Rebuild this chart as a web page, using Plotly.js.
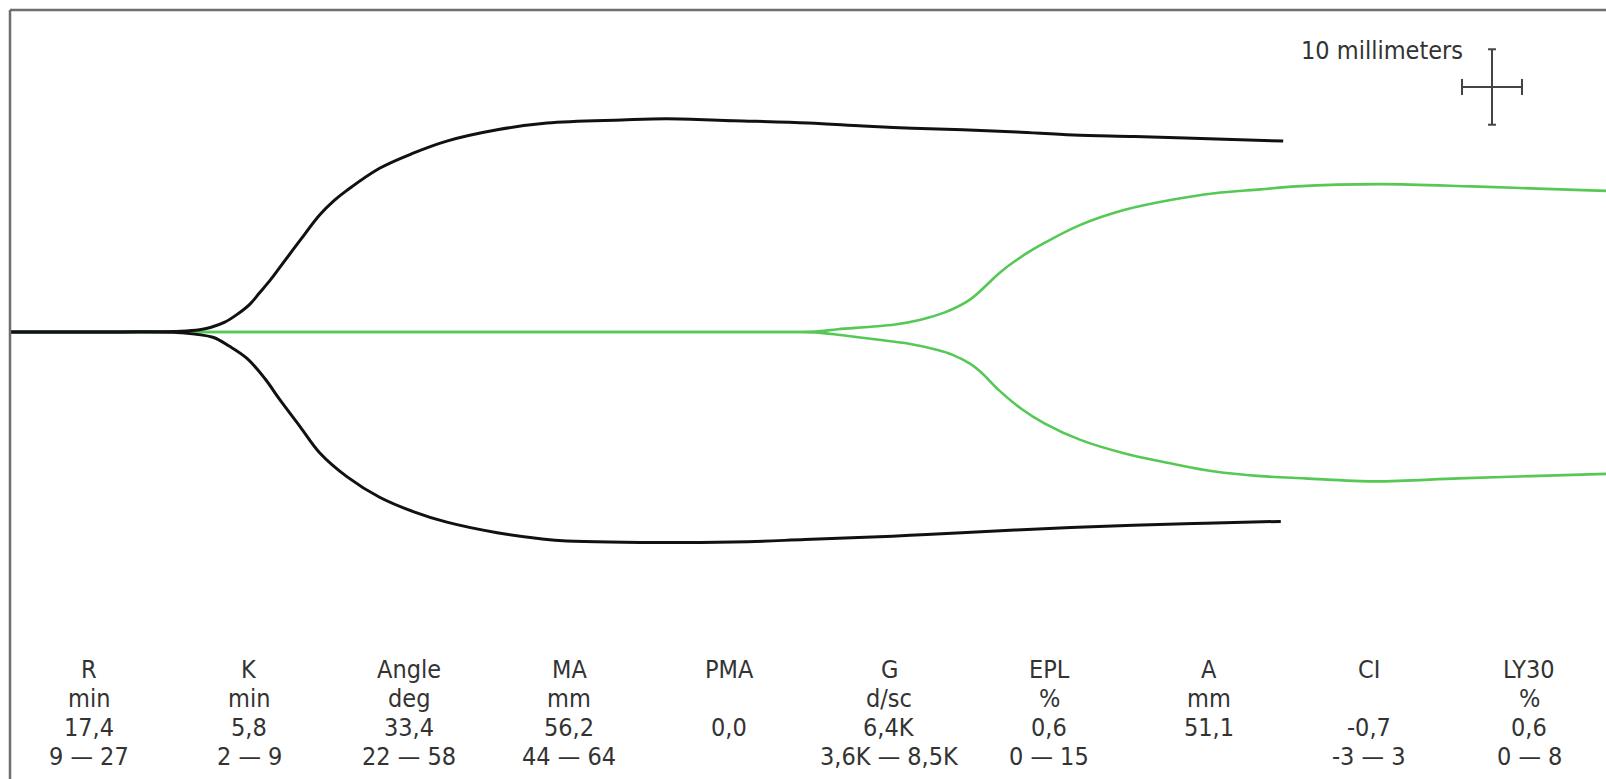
<!DOCTYPE html>
<html>
<head>
<meta charset="utf-8">
<script src="https://cdn.plot.ly/plotly-3.0.1.min.js"></script>
<style>html,body{margin:0;padding:0;background:#fff;}#chart{width:1606px;height:779px;}</style>
</head>
<body>
<div id="chart"></div>
<script>
// Time (minutes) and amplitude (mm, half-amplitude above / below the centre line)
const blackUpperT = [0, 7, 14.2, 15.8, 16.7, 17.9, 18.9, 20.0, 20.8, 21.7, 22.5, 24.2, 25.8, 27.0, 28.1, 30.8, 33.6, 36.4, 40.6, 44.75, 51.0, 54.75, 60.3, 66.5, 71.1, 75.2, 79.4, 83.9, 88.6, 93.75, 99.9, 106.1];
const blackUpperA = [0, 0, 0.1, 0.3, 0.6, 1.3, 2.3, 3.7, 5.2, 6.9, 8.6, 12.2, 15.5, 17.4, 18.8, 21.7, 23.7, 25.3, 26.8, 27.7, 28.1, 28.25, 28.0, 27.7, 27.3, 27.0, 26.8, 26.5, 26.1, 25.9, 25.6, 25.3];

const blackLowerT = [0, 7, 14.2, 16.9, 18.3, 19.75, 21.25, 22.5, 24.2, 25.8, 28.1, 30.8, 33.6, 36.4, 40.6, 44.2, 46.4, 55.8, 61.5, 66.25, 70.7, 75.0, 79.3, 83.75, 88.4, 93.6, 99.6, 105.9];
const blackLowerA = [0, 0, -0.1, -0.7, -1.9, -3.5, -6.2, -9.0, -12.6, -16.0, -19.2, -21.9, -23.8, -25.2, -26.6, -27.4, -27.7, -27.9, -27.8, -27.5, -27.25, -26.95, -26.6, -26.25, -25.9, -25.6, -25.35, -25.1];

const greenUpperT = [0, 20, 40, 60, 65.5, 67.1, 69.0, 71.75, 73.75, 75.8, 77.9, 80.0, 81.5, 82.5, 84.3, 86.2, 89.2, 92.9, 96.7, 100.4, 104.2, 107.2, 114.2, 121.8, 127.3, 133.0];
const greenUpperA = [0, 0, 0, 0, 0, 0.05, 0.36, 0.7, 1.0, 1.6, 2.6, 4.3, 6.4, 7.9, 10.0, 11.8, 14.2, 16.2, 17.5, 18.4, 18.9, 19.3, 19.6, 19.3, 19.0, 18.7];

const greenLowerT = [0, 20, 40, 60, 65.5, 67.1, 69.2, 72.25, 74.7, 77.3, 78.5, 80.0, 80.9, 82.4, 84.3, 86.2, 89.2, 92.9, 96.7, 100.4, 104.2, 107.9, 113.75, 120.7, 126.75, 133.0];
const greenLowerA = [0, 0, 0, 0, 0, -0.05, -0.4, -1.0, -1.5, -2.4, -3.0, -4.2, -5.3, -7.7, -10.2, -12.1, -14.3, -16.1, -17.4, -18.5, -19.1, -19.4, -19.8, -19.4, -19.1, -18.8];

// Parameter table
const paramNames  = ["R", "K", "Angle", "MA", "PMA", "G", "EPL", "A", "CI", "LY30"];
const paramUnits  = ["min", "min", "deg", "mm", "", "d/sc", "%", "mm", "", "%"];
const paramValues = ["17,4", "5,8", "33,4", "56,2", "0,0", "6,4K", "0,6", "51,1", "-0,7", "0,6"];
const paramRanges = ["9 \u2014 27", "2 \u2014 9", "22 \u2014 58", "44 \u2014 64", "", "3,6K \u2014 8,5K", "0 \u2014 15", "", "-3 \u2014 3", "0 \u2014 8"];
const scaleLabel = "10 millimeters";

// ---- drawing ----
const W = 1606, H = 779, ML = 10, MT = 10;
const PW = W - ML, PH = H - MT;
const CY = 332, PX_PER_MM = 7.545, PX_PER_MIN = 12;
const xRange = [0, PW / PX_PER_MIN];
const yRange = [-(H - CY) / PX_PER_MM, (CY - MT) / PX_PER_MM];

const BLACK = "#111111", GREEN = "#55c855";
const sp = {shape: "spline", smoothing: 1.0};
const traces = [
  {x: greenUpperT, y: greenUpperA, mode: "lines", line: Object.assign({color: GREEN, width: 2.6}, sp), hoverinfo: "skip"},
  {x: greenLowerT, y: greenLowerA, mode: "lines", line: Object.assign({color: GREEN, width: 2.6}, sp), hoverinfo: "skip"},
  {x: blackUpperT, y: blackUpperA, mode: "lines", line: Object.assign({color: BLACK, width: 3}, sp), hoverinfo: "skip"},
  {x: blackLowerT, y: blackLowerA, mode: "lines", line: Object.assign({color: BLACK, width: 3}, sp), hoverinfo: "skip"}
];

const FONT = "'Liberation Sans Narrow', 'DejaVu Sans Condensed', 'Liberation Sans', sans-serif";
const TXT = "#333333";
const FS = 25;
const colX0 = 89, colDX = 160;
const rowY = [669, 698, 727, 756];
const px2paperX = px => (px - ML) / PW;
const px2paperY = py => (H - py) / PH;

const annotations = [];
paramNames.forEach((name, i) => {
  const rows = [name, paramUnits[i], paramValues[i], paramRanges[i]];
  rows.forEach((t, r) => {
    if (!t) return;
    annotations.push({
      text: t, xref: "paper", yref: "paper",
      x: px2paperX(colX0 + i * colDX), y: px2paperY(rowY[r]),
      xanchor: "center", yanchor: "middle", showarrow: false,
      font: {family: FONT, size: FS, color: TXT}
    });
  });
});
annotations.push({
  text: scaleLabel, xref: "paper", yref: "paper",
  x: px2paperX(1382), y: px2paperY(51), xanchor: "center", yanchor: "middle",
  showarrow: false, font: {family: FONT, size: FS, color: TXT}
});

// scale crosshair (10 mm vertical, 5 min horizontal)
const chX = (1492 - ML) / PX_PER_MIN, chY = (CY - 87) / PX_PER_MM;
const CH = "#444444";
const shapes = [
  {type: "line", xref: "paper", yref: "paper", x0: 0, x1: 1, y0: 1, y1: 1, line: {color: "#6e6e6e", width: 2.5}},
  {type: "line", xref: "paper", yref: "paper", x0: 0, x1: 0, y0: 0, y1: 1, line: {color: "#6e6e6e", width: 2.5}},
  {type: "line", xref: "x", yref: "y", x0: chX, x1: chX, y0: chY - 5, y1: chY + 5, line: {color: CH, width: 2}},
  {type: "line", xref: "x", yref: "y", x0: chX - 2.5, x1: chX + 2.5, y0: chY, y1: chY, line: {color: CH, width: 2}},
  {type: "line", xref: "x", yref: "y", x0: chX - 0.33, x1: chX + 0.33, y0: chY + 5, y1: chY + 5, line: {color: CH, width: 2}},
  {type: "line", xref: "x", yref: "y", x0: chX - 0.33, x1: chX + 0.33, y0: chY - 5, y1: chY - 5, line: {color: CH, width: 2}},
  {type: "line", xref: "x", yref: "y", x0: chX - 2.5, x1: chX - 2.5, y0: chY - 1.05, y1: chY + 1.05, line: {color: CH, width: 2}},
  {type: "line", xref: "x", yref: "y", x0: chX + 2.5, x1: chX + 2.5, y0: chY - 1.05, y1: chY + 1.05, line: {color: CH, width: 2}}
];

const layout = {
  width: W, height: H,
  margin: {l: ML, r: 0, t: MT, b: 0, pad: 0},
  paper_bgcolor: "#ffffff", plot_bgcolor: "#ffffff",
  showlegend: false,
  xaxis: {range: xRange, visible: false, fixedrange: true},
  yaxis: {range: yRange, visible: false, fixedrange: true},
  annotations: annotations,
  shapes: shapes
};

Plotly.newPlot("chart", traces, layout, {staticPlot: true, displayModeBar: false});
</script>
</body>
</html>
